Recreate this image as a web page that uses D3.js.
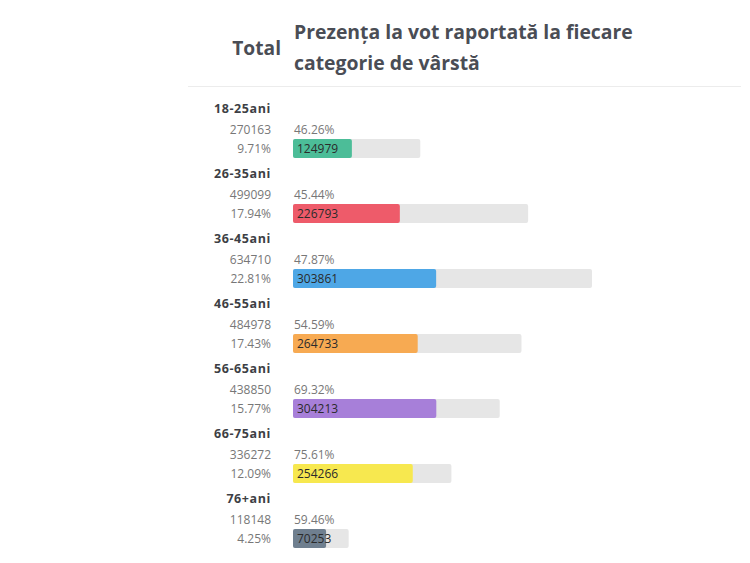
<!DOCTYPE html>
<html><head><meta charset="utf-8">
<script src="https://cdn.jsdelivr.net/npm/d3@7/dist/d3.min.js"></script>
<style>body{margin:0;background:#fff;}svg{display:block;}</style>
</head><body>
<svg id="c" width="750" height="563"></svg>
<script>
const categories = ["18-25ani","26-35ani","36-45ani","46-55ani","56-65ani","66-75ani","76+ani"];
const totals = [270163,499099,634710,484978,438850,336272,118148];
const totalShare = ["9.71%","17.94%","22.81%","17.43%","15.77%","12.09%","4.25%"];
const voters = [124979,226793,303861,264733,304213,254266,70253];
const turnout = ["46.26%","45.44%","47.87%","54.59%","69.32%","75.61%","59.46%"];
const colors = ["#4cbd98","#ee5b6a","#4ea7e6","#f7aa52","#a77fd9","#f7e84f","#6f7f8f"];

const svg = d3.select("#c");
const font = "'Open Sans', 'Noto Sans', sans-serif";
const x0 = 293;
const x = d3.scaleLinear().domain([0, 634710]).range([0, 299]);
const y = d3.scaleBand().domain(categories).range([95, 95 + 65*7]).padding(0);

// header
svg.append("text").attr("x",281).attr("y",55).attr("text-anchor","end")
  .attr("font-family",font).attr("font-weight",700).attr("font-size",19.2).attr("fill","#4a4d55").text("Total");
svg.append("text").attr("x",294).attr("y",39)
  .attr("font-family",font).attr("font-weight",700).attr("font-size",19.4).attr("fill","#4a4d55").text("Prezența la vot raportată la fiecare");
svg.append("text").attr("x",294).attr("y",70)
  .attr("font-family",font).attr("font-weight",700).attr("font-size",19.4).attr("fill","#4a4d55").text("categorie de vârstă");
svg.append("line").attr("x1",188).attr("x2",741).attr("y1",86.5).attr("y2",86.5).attr("stroke","#ececec");

const g = svg.selectAll("g.row").data(categories).join("g").attr("class","row")
  .attr("transform", d => `translate(0,${y(d)})`);

g.append("text").attr("x",271).attr("y",18).attr("text-anchor","end")
  .attr("font-family",font).attr("font-weight",700).attr("font-size",12.5).attr("letter-spacing",0.6)
  .attr("fill","#3d3f45").text(d=>d);
g.append("text").attr("x",271).attr("y",39).attr("text-anchor","end")
  .attr("font-family",font).attr("font-size",12).attr("fill","#777").text((d,i)=>totals[i]);
g.append("text").attr("x",271).attr("y",58).attr("text-anchor","end")
  .attr("font-family",font).attr("font-size",12).attr("fill","#777").text((d,i)=>totalShare[i]);
g.append("text").attr("x",294).attr("y",39)
  .attr("font-family",font).attr("font-size",12).attr("fill","#777").text((d,i)=>turnout[i]);
g.append("rect").attr("x",x0).attr("y",44).attr("height",19).attr("rx",2)
  .attr("width",(d,i)=>x(totals[i])).attr("fill","#e6e6e6");
g.append("rect").attr("x",x0).attr("y",44).attr("height",19).attr("rx",2)
  .attr("width",(d,i)=>x(voters[i])).attr("fill",(d,i)=>colors[i]);
g.append("text").attr("x",x0+4).attr("y",58)
  .attr("font-family",font).attr("font-size",12).attr("fill","#2b2b2b").text((d,i)=>voters[i]);
</script>
</body></html>
